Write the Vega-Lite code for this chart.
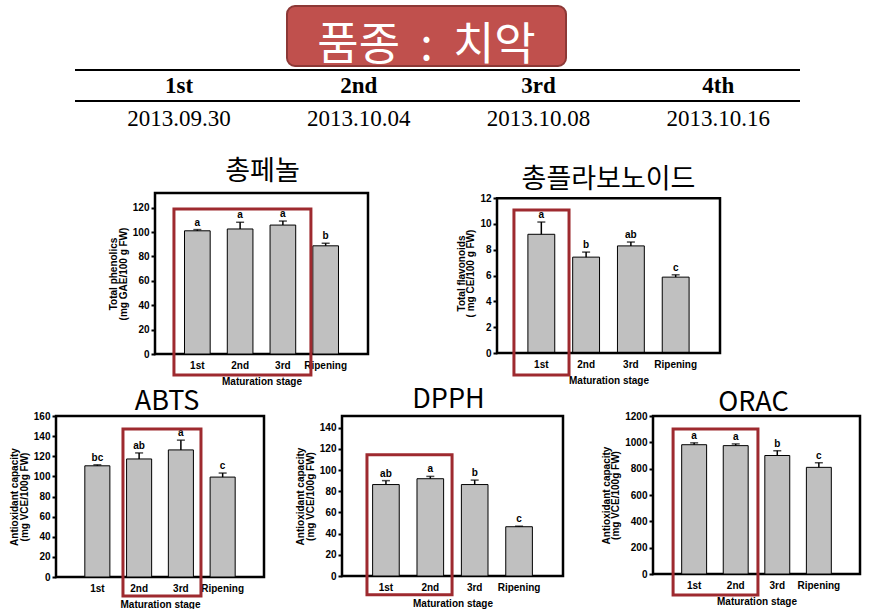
{
  "$schema": "https://vega.github.io/schema/vega-lite/v6.json",
  "background": "white",
  "autosize": {"type": "pad"},
  "padding": {"left": 8, "top": 5, "right": 0, "bottom": 0},
  "spacing": -100,
  "config": {
    "view": {"stroke": null},
    "font": "Liberation Sans",
    "axis": {"labelFont": "Liberation Sans", "labelFontSize": 10, "labelFontWeight": "bold", "labelColor": "black", "titleFont": "Liberation Sans", "titleFontSize": 10, "titleFontWeight": "bold", "titleColor": "black", "grid": false, "domain": false},
    "axisY": {"tickSize": 4, "tickWidth": 2, "tickColor": "black", "labelPadding": 2, "titlePadding": 4, "titleLineHeight": 9.5, "format": "d", "labelOverlap": false},
    "axisX": {"ticks": false, "tickSize": 0, "labelPadding": 6, "titlePadding": 6, "labelAngle": 0},
    "title": {"font": "Noto Sans CJK KR", "fontSize": 27, "fontWeight": "normal", "color": "black", "anchor": "middle", "frame": "group", "baseline": "bottom"}
  },
  "datasets": {
    "table": [
      {"stage": "1st", "date": "2013.09.30"},
      {"stage": "2nd", "date": "2013.10.04"},
      {"stage": "3rd", "date": "2013.10.08"},
      {"stage": "4th", "date": "2013.10.16"}
    ],
    "phenol": [
      {"stage": "1st", "value": 101, "upper": 102, "letter": "a"},
      {"stage": "2nd", "value": 102.5, "upper": 108, "letter": "a"},
      {"stage": "3rd", "value": 105.7, "upper": 109, "letter": "a"},
      {"stage": "Ripening", "value": 88.7, "upper": 90.8, "letter": "b"}
    ],
    "flav": [
      {"stage": "1st", "value": 9.2, "upper": 10.15, "letter": "a"},
      {"stage": "2nd", "value": 7.43, "upper": 7.82, "letter": "b"},
      {"stage": "3rd", "value": 8.3, "upper": 8.6, "letter": "ab"},
      {"stage": "Ripening", "value": 5.88, "upper": 6.06, "letter": "c"}
    ],
    "abts": [
      {"stage": "1st", "value": 110.5, "upper": 111.5, "letter": "bc"},
      {"stage": "2nd", "value": 117.3, "upper": 123.3, "letter": "ab"},
      {"stage": "3rd", "value": 126.3, "upper": 136, "letter": "a"},
      {"stage": "Ripening", "value": 99.3, "upper": 103.3, "letter": "c"}
    ],
    "dpph": [
      {"stage": "1st", "value": 86.3, "upper": 90, "letter": "ab"},
      {"stage": "2nd", "value": 91.8, "upper": 94, "letter": "a"},
      {"stage": "3rd", "value": 86.3, "upper": 90.5, "letter": "b"},
      {"stage": "Ripening", "value": 46.5, "upper": 47, "letter": "c"}
    ],
    "orac": [
      {"stage": "1st", "value": 982, "upper": 996, "letter": "a"},
      {"stage": "2nd", "value": 975, "upper": 988, "letter": "a"},
      {"stage": "3rd", "value": 900, "upper": 937, "letter": "b"},
      {"stage": "Ripening", "value": 810, "upper": 845, "letter": "c"}
    ]
  },
  "vconcat": [
    {
      "hconcat": [
        {"width": 231, "height": 64, "data": {"values": []}, "mark": "point", "encoding": {}},
        {
          "width": 279, "height": 60,
          "view": {"fill": "#c0504d", "stroke": "#8c3836", "strokeWidth": 2, "cornerRadius": 8},
          "data": {"values": [{}]},
          "mark": {"type": "text", "text": "품종\u00a0\u00a0:\u00a0\u00a0치악", "font": "Noto Sans CJK KR", "fontSize": 45, "color": "white", "baseline": "alphabetic", "align": "center", "dy": 23.5},
          "encoding": {}
        }
      ],
      "bounds": "flush", "spacing": 0
    },
    {
      "hconcat": [
        {"width": 19, "height": 123, "data": {"values": []}, "mark": "point", "encoding": {}},
        {
          "width": 725, "height": 62,
          "data": {"name": "table"},
          "encoding": {
            "x": {"field": "stage", "type": "nominal", "sort": null, "scale": {"type": "point", "padding": 0.517, "align": 0.56}, "axis": null}
          },
          "layer": [
            {"mark": {"type": "rule", "color": "black", "strokeWidth": 2},
             "encoding": {"x": null, "y": {"datum": "stage", "type": "nominal", "bandPosition": 0, "scale": {"type": "band", "domain": ["stage", "date"], "paddingInner": 0, "paddingOuter": 0}, "axis": null}}},
            {"mark": {"type": "rule", "color": "black", "strokeWidth": 2},
             "encoding": {"x": null, "y": {"datum": "date", "type": "nominal", "bandPosition": 0, "axis": null}}},
            {"mark": {"type": "text", "font": "Liberation Serif", "fontSize": 23, "fontWeight": "bold", "color": "black", "baseline": "middle"},
             "encoding": {"y": {"datum": "stage", "type": "nominal", "axis": null}, "text": {"field": "stage"}}},
            {"mark": {"type": "text", "font": "Liberation Serif", "fontSize": 23, "fontWeight": "normal", "color": "black", "baseline": "middle", "dy": 2},
             "encoding": {"y": {"datum": "date", "type": "nominal", "axis": null}, "text": {"field": "date"}}}
          ]
        }
      ],
      "bounds": "flush", "spacing": 0
    },
    {
      "hconcat": [
        {"width": 99, "height": 223, "data": {"values": []}, "mark": "point", "encoding": {}},
        {
          "width": 213, "height": 161,
          "view": {"stroke": "black", "strokeWidth": 2.5},
          "title": {"text": "총페놀", "offset": 7, "dx": 1},
          "layer": [
            {
              "data": {"name": "phenol"},
              "encoding": {
                "x": {"field": "stage", "type": "nominal", "sort": null, "scale": {"paddingInner": 0.4, "paddingOuter": 0.69}, "axis": {"title": "Maturation stage"}}
              },
              "layer": [
                {"mark": {"type": "bar", "fill": "#c0c0c0", "stroke": "black", "strokeWidth": 1},
                 "encoding": {"y": {"field": "value", "type": "quantitative", "scale": {"domain": [0, 132], "nice": false}, "axis": {"title": ["Total phenolics", "(mg GAE/100 g FW)"], "values": [0, 20, 40, 60, 80, 100, 120], "tickCount": 30, "labelOverlap": false}}}},
                {"mark": {"type": "rule", "color": "black", "strokeWidth": 1.5},
                 "encoding": {"y": {"field": "value", "type": "quantitative"}, "y2": {"field": "upper"}}},
                {"mark": {"type": "tick", "orient": "horizontal", "size": 8, "thickness": 1.5, "color": "black"},
                 "encoding": {"y": {"field": "upper", "type": "quantitative"}}},
                {"mark": {"type": "text", "baseline": "bottom", "dy": -2, "fontSize": 10, "fontWeight": "bold", "color": "black"},
                 "encoding": {"y": {"field": "upper", "type": "quantitative"}, "text": {"field": "letter"}}}
              ]
            },
            {
              "data": {"values": [{}]},
              "mark": {"type": "rect", "filled": false, "color": "#9e2a2f", "strokeWidth": 3, "clip": false},
              "encoding": {
                "x": {"datum": 0.089, "type": "quantitative", "scale": {"domain": [0, 1], "nice": false, "zero": false}, "axis": null},
                "x2": {"datum": 0.732},
                "y": {"datum": 118.9, "type": "quantitative", "scale": {"domain": [0, 132], "nice": false}},
                "y2": {"datum": -17.2}
              }
            }
          ],
          "resolve": {"scale": {"x": "independent"}}
        },
        {"width": 129, "height": 1, "data": {"values": []}, "mark": "point", "encoding": {}},
        {
          "width": 223, "height": 160,
          "title": {"text": "총플라보노이드", "offset": -1, "dx": 0},
          "layer": [
            {
              "data": {"name": "flav"},
              "encoding": {
                "x": {"field": "stage", "type": "nominal", "sort": null, "scale": {"paddingInner": 0.4, "paddingOuter": 0.69}, "axis": {"title": "Maturation stage"}}
              },
              "layer": [
                {"mark": {"type": "bar", "fill": "#c0c0c0", "stroke": "black", "strokeWidth": 1},
                 "encoding": {"y": {"field": "value", "type": "quantitative", "scale": {"domain": [0, 12.4], "nice": false}, "axis": {"title": ["Total flavonoids", "( mg CE/100 g FW)"], "values": [0, 2, 4, 6, 8, 10, 12], "tickCount": 30, "labelOverlap": false}}}},
                {"mark": {"type": "rule", "color": "black", "strokeWidth": 1.5},
                 "encoding": {"y": {"field": "value", "type": "quantitative"}, "y2": {"field": "upper"}}},
                {"mark": {"type": "tick", "orient": "horizontal", "size": 8, "thickness": 1.5, "color": "black"},
                 "encoding": {"y": {"field": "upper", "type": "quantitative"}}},
                {"mark": {"type": "text", "baseline": "bottom", "dy": -2, "fontSize": 10, "fontWeight": "bold", "color": "black"},
                 "encoding": {"y": {"field": "upper", "type": "quantitative"}, "text": {"field": "letter"}}}
              ]
            },
            {
              "data": {"values": [{}]},
              "layer": [
                {
                  "mark": {"type": "rect", "filled": false, "color": "black", "strokeWidth": 2.5, "clip": false},
                  "encoding": {
                    "x": {"datum": 0, "type": "quantitative", "scale": {"domain": [0, 1], "nice": false, "zero": false}, "axis": null},
                    "x2": {"datum": 1},
                    "y": {"datum": 12, "type": "quantitative", "scale": {"domain": [0, 12.4], "nice": false}},
                    "y2": {"datum": 0}
                  }
                },
                {
                  "mark": {"type": "rect", "filled": false, "color": "#9e2a2f", "strokeWidth": 3, "clip": false},
                  "encoding": {
                    "x": {"datum": 0.076, "type": "quantitative"},
                    "x2": {"datum": 0.323},
                    "y": {"datum": 11.08, "type": "quantitative"},
                    "y2": {"datum": -1.7}
                  }
                }
              ]
            }
          ],
          "resolve": {"scale": {"x": "independent"}}
        }
      ],
      "bounds": "flush", "spacing": 0
    },
    {
      "hconcat": [
        {
          "width": 208, "height": 161,
          "view": {"stroke": "black", "strokeWidth": 2.5},
          "title": {"text": "ABTS", "offset": -5, "dx": 7},
          "layer": [
            {
              "data": {"name": "abts"},
              "encoding": {
                "x": {"field": "stage", "type": "nominal", "sort": null, "scale": {"paddingInner": 0.4, "paddingOuter": 0.69}, "axis": {"title": "Maturation stage"}}
              },
              "layer": [
                {"mark": {"type": "bar", "fill": "#c0c0c0", "stroke": "black", "strokeWidth": 1},
                 "encoding": {"y": {"field": "value", "type": "quantitative", "scale": {"domain": [0, 160], "nice": false}, "axis": {"title": ["Antioxidant capacity", "(mg VCE/100g FW)"], "values": [0, 20, 40, 60, 80, 100, 120, 140, 160], "tickCount": 30, "labelOverlap": false}}}},
                {"mark": {"type": "rule", "color": "black", "strokeWidth": 1.5},
                 "encoding": {"y": {"field": "value", "type": "quantitative"}, "y2": {"field": "upper"}}},
                {"mark": {"type": "tick", "orient": "horizontal", "size": 8, "thickness": 1.5, "color": "black"},
                 "encoding": {"y": {"field": "upper", "type": "quantitative"}}},
                {"mark": {"type": "text", "baseline": "bottom", "dy": -2, "fontSize": 10, "fontWeight": "bold", "color": "black"},
                 "encoding": {"y": {"field": "upper", "type": "quantitative"}, "text": {"field": "letter"}}}
              ]
            },
            {
              "data": {"values": [{}]},
              "mark": {"type": "rect", "filled": false, "color": "#9e2a2f", "strokeWidth": 3, "clip": false},
              "encoding": {
                "x": {"datum": 0.322, "type": "quantitative", "scale": {"domain": [0, 1], "nice": false, "zero": false}, "axis": null},
                "x2": {"datum": 0.697},
                "y": {"datum": 147, "type": "quantitative", "scale": {"domain": [0, 160], "nice": false}},
                "y2": {"datum": -18.9}
              }
            }
          ],
          "resolve": {"scale": {"x": "independent"}}
        },
        {"width": 78, "height": 1, "data": {"values": []}, "mark": "point", "encoding": {}},
        {
          "width": 221, "height": 160,
          "view": {"stroke": "black", "strokeWidth": 2.5},
          "title": {"text": "DPPH", "offset": 2, "dx": -4},
          "layer": [
            {
              "data": {"name": "dpph"},
              "encoding": {
                "x": {"field": "stage", "type": "nominal", "sort": null, "scale": {"paddingInner": 0.4, "paddingOuter": 0.69}, "axis": {"title": "Maturation stage"}}
              },
              "layer": [
                {"mark": {"type": "bar", "fill": "#c0c0c0", "stroke": "black", "strokeWidth": 1},
                 "encoding": {"y": {"field": "value", "type": "quantitative", "scale": {"domain": [0, 151], "nice": false}, "axis": {"title": ["Antioxidant capacity", "(mg VCE/100g FW)"], "values": [0, 20, 40, 60, 80, 100, 120, 140], "tickCount": 30, "labelOverlap": false}}}},
                {"mark": {"type": "rule", "color": "black", "strokeWidth": 1.5},
                 "encoding": {"y": {"field": "value", "type": "quantitative"}, "y2": {"field": "upper"}}},
                {"mark": {"type": "tick", "orient": "horizontal", "size": 8, "thickness": 1.5, "color": "black"},
                 "encoding": {"y": {"field": "upper", "type": "quantitative"}}},
                {"mark": {"type": "text", "baseline": "bottom", "dy": -2, "fontSize": 10, "fontWeight": "bold", "color": "black"},
                 "encoding": {"y": {"field": "upper", "type": "quantitative"}, "text": {"field": "letter"}}}
              ]
            },
            {
              "data": {"values": [{}]},
              "mark": {"type": "rect", "filled": false, "color": "#9e2a2f", "strokeWidth": 3, "clip": false},
              "encoding": {
                "x": {"datum": 0.113, "type": "quantitative", "scale": {"domain": [0, 1], "nice": false, "zero": false}, "axis": null},
                "x2": {"datum": 0.498},
                "y": {"datum": 114.4, "type": "quantitative", "scale": {"domain": [0, 151], "nice": false}},
                "y2": {"datum": -17.8}
              }
            }
          ],
          "resolve": {"scale": {"x": "independent"}}
        },
        {"width": 90, "height": 1, "data": {"values": []}, "mark": "point", "encoding": {}},
        {
          "width": 207, "height": 158,
          "view": {"stroke": "black", "strokeWidth": 2.5},
          "title": {"text": "ORAC", "offset": -6, "dx": -3},
          "layer": [
            {
              "data": {"name": "orac"},
              "encoding": {
                "x": {"field": "stage", "type": "nominal", "sort": null, "scale": {"paddingInner": 0.4, "paddingOuter": 0.69}, "axis": {"title": "Maturation stage"}}
              },
              "layer": [
                {"mark": {"type": "bar", "fill": "#c0c0c0", "stroke": "black", "strokeWidth": 1},
                 "encoding": {"y": {"field": "value", "type": "quantitative", "scale": {"domain": [0, 1200], "nice": false}, "axis": {"title": ["Antioxidant capacity", "(mg VCE/100g FW)"], "values": [0, 200, 400, 600, 800, 1000, 1200], "tickCount": 30, "labelOverlap": false}}}},
                {"mark": {"type": "rule", "color": "black", "strokeWidth": 1.5},
                 "encoding": {"y": {"field": "value", "type": "quantitative"}, "y2": {"field": "upper"}}},
                {"mark": {"type": "tick", "orient": "horizontal", "size": 8, "thickness": 1.5, "color": "black"},
                 "encoding": {"y": {"field": "upper", "type": "quantitative"}}},
                {"mark": {"type": "text", "baseline": "bottom", "dy": -2, "fontSize": 10, "fontWeight": "bold", "color": "black"},
                 "encoding": {"y": {"field": "upper", "type": "quantitative"}, "text": {"field": "letter"}}}
              ]
            },
            {
              "data": {"values": [{}]},
              "mark": {"type": "rect", "filled": false, "color": "#9e2a2f", "strokeWidth": 3, "clip": false},
              "encoding": {
                "x": {"datum": 0.097, "type": "quantitative", "scale": {"domain": [0, 1], "nice": false, "zero": false}, "axis": null},
                "x2": {"datum": 0.507},
                "y": {"datum": 1101, "type": "quantitative", "scale": {"domain": [0, 1200], "nice": false}},
                "y2": {"datum": -159.5}
              }
            }
          ],
          "resolve": {"scale": {"x": "independent"}}
        }
      ],
      "bounds": "flush", "spacing": 0
    }
  ]
}
